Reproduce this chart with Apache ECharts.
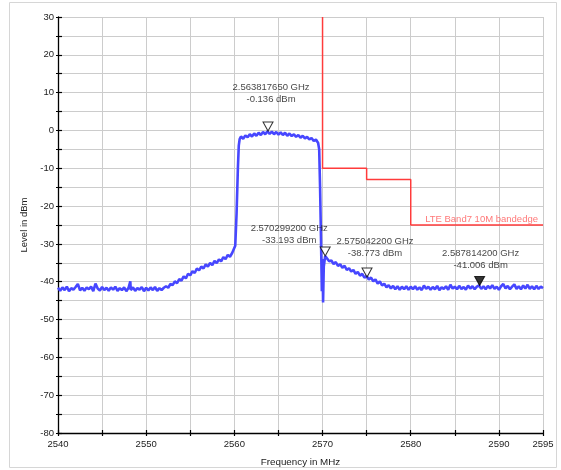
<!DOCTYPE html>
<html>
<head>
<meta charset="utf-8">
<script src="https://cdn.jsdelivr.net/npm/echarts@6/dist/echarts.min.js"></script>
<style>html,body{margin:0;padding:0;background:#fff;}#c{width:561px;height:470px;}</style>
</head>
<body>
<div id="c"></div>
<script>
// Spectrum trace [frequency MHz, level dBm]
const trace = [
[2540,-41.6],[2540.25,-42.4],[2540.5,-41.5],[2540.75,-42.2],[2541,-41.3],[2541.25,-42.5],[2541.5,-41.7],[2541.75,-42.1],
[2542,-41.4],[2542.25,-40.6],[2542.5,-42.3],[2542.75,-41.6],[2543,-42.4],[2543.25,-41.5],[2543.5,-42.0],[2543.75,-41.3],
[2544,-42.5],[2544.25,-40.5],[2544.5,-41.8],[2544.75,-42.3],[2545,-41.4],[2545.25,-42.2],[2545.5,-41.6],[2545.75,-42.4],
[2546,-41.5],[2546.25,-42.1],[2546.5,-41.3],[2546.75,-42.4],[2547,-41.7],[2547.25,-42.2],[2547.5,-41.5],[2547.75,-42.5],
[2548,-41.6],[2548.2,-39.9],[2548.25,-42.2],[2548.5,-41.5],[2548.75,-42.4],[2549,-41.7],[2549.25,-42.1],[2549.5,-41.4],
[2549.75,-42.5],[2550,-41.6],[2550.25,-42.3],[2550.5,-41.5],[2550.75,-42.2],[2551,-41.4],[2551.25,-42.4],[2551.5,-41.7],
[2551.75,-42.2],[2552,-41.6],
[2552.25,-41.2],[2552.5,-41.6],[2552.75,-40.6],[2553,-40.9],[2553.25,-39.9],[2553.5,-40.4],[2553.75,-39.3],[2554,-39.7],
[2554.25,-38.6],[2554.5,-39.1],[2554.75,-37.9],[2555,-38.3],[2555.25,-37.2],[2555.5,-37.7],[2555.75,-36.5],[2556,-37.0],
[2556.25,-36.0],[2556.5,-36.5],[2556.75,-35.4],[2557,-36.0],[2557.25,-35.0],[2557.5,-35.6],[2557.75,-34.5],[2558,-35.1],
[2558.25,-34.1],[2558.5,-34.6],[2558.75,-33.5],[2559,-34.0],[2559.25,-32.9],[2559.5,-33.4],[2559.75,-32.4],[2559.95,-32.8],
[2560.1,-30.5],[2560.25,-22],[2560.4,-10],[2560.5,-4],[2560.6,-2.3],
[2560.75,-1.6],[2561,-2.2],[2561.25,-1.3],[2561.5,-1.8],[2561.75,-1.0],[2562,-1.6],[2562.25,-0.8],[2562.5,-1.4],
[2562.75,-0.6],[2563,-1.2],[2563.25,-0.4],[2563.5,-1.0],[2563.75,-0.2],[2564,-0.9],[2564.25,-0.3],[2564.5,-1.0],
[2564.75,-0.4],[2565,-1.1],[2565.25,-0.5],[2565.5,-1.2],[2565.75,-0.6],[2566,-1.4],[2566.25,-0.8],[2566.5,-1.5],
[2566.75,-1.0],[2567,-1.7],[2567.25,-1.2],[2567.5,-1.9],[2567.75,-1.4],[2568,-2.1],[2568.25,-1.7],[2568.5,-2.4],
[2568.75,-2.0],[2569,-2.8],[2569.25,-2.4],[2569.5,-3.3],
[2569.62,-5],[2569.72,-15],[2569.82,-28],[2569.92,-42.5],[2570.0,-34],[2570.06,-45.5],[2570.14,-36],[2570.3,-33.2],
[2570.5,-33.5],[2570.75,-34.6],[2571,-34.4],[2571.25,-35.3],[2571.5,-34.8],[2571.75,-35.8],[2572,-35.4],[2572.25,-36.3],
[2572.5,-35.8],[2572.75,-36.9],[2573,-36.4],[2573.25,-37.3],[2573.5,-36.9],[2573.75,-37.9],[2574,-37.4],[2574.25,-38.4],
[2574.5,-37.9],[2574.75,-38.9],[2575,-38.5],[2575.25,-39.4],[2575.5,-38.9],[2575.75,-39.9],[2576,-39.4],[2576.25,-40.5],
[2576.5,-39.9],[2576.75,-41.0],[2577,-40.5],[2577.25,-41.5],[2577.5,-40.9],[2577.75,-41.8],[2578,-41.1],[2578.25,-42.0],
[2578.5,-41.2],[2578.75,-42.1],[2579,-41.3],[2579.25,-42.0],[2579.5,-41.2],[2579.75,-42.1],
[2580,-41.3],[2580.25,-42.0],[2580.5,-41.2],[2580.75,-42.1],[2581,-41.5],[2581.25,-42.2],[2581.5,-41.0],[2581.75,-41.9],
[2582,-41.3],[2582.25,-42.1],[2582.5,-41.4],[2582.75,-42.0],[2583,-41.1],[2583.25,-42.2],[2583.5,-41.5],[2583.75,-41.9],
[2584,-41.2],[2584.25,-42.1],[2584.5,-40.8],[2584.75,-41.8],[2585,-41.3],[2585.25,-42.0],[2585.5,-41.1],[2585.75,-41.9],
[2586,-41.4],[2586.25,-42.1],[2586.5,-41.0],[2586.75,-41.8],[2587,-41.2],[2587.25,-42.0],[2587.5,-41.3],[2587.75,-41.0],
[2588,-41.9],[2588.25,-41.2],[2588.5,-42.0],[2588.75,-41.1],[2589,-41.8],[2589.25,-40.9],[2589.5,-41.9],[2589.75,-41.3],
[2590,-42.1],[2590.25,-41.2],[2590.5,-40.6],[2590.75,-41.8],[2591,-41.1],[2591.25,-42.0],[2591.5,-41.3],[2591.75,-40.7],
[2592,-41.9],[2592.25,-41.2],[2592.5,-42.0],[2592.75,-41.0],[2593,-41.8],[2593.25,-40.8],[2593.5,-41.9],[2593.75,-41.2],
[2594,-42.0],[2594.25,-41.1],[2594.5,-41.9],[2594.75,-41.3],[2595,-41.7]
];

// Limit line (LTE Band7 10M bandedge)
const limitFreq  = [2570, 2570, 2575, 2575, 2580, 2580, 2595];
const limitLevel = [30, -10, -10, -13, -13, -25, -25];
const limitName = 'LTE Band7 10M bandedge';

// Markers
const markerHz    = [2563817650, 2570299200, 2575042200, 2587814200];
const markerLevel = [-0.136, -33.193, -38.773, -41.006];
const markerActive = [false, false, false, true];

// Axis ticks
const xMin = 2540, xMax = 2595, xStep = 5;
const yMin = -80, yMax = 30, yStep = 5;
const xAxisName = 'Frequency in MHz';
const yAxisName = 'Level in dBm';

// label placement (style, not data)
const markerLabelOffset = [[3,-26],[-36,-10],[8,-18],[1,-14]];

const FONT = 'Liberation Sans, Arial, Helvetica, sans-serif';
const FS = 9.5;

const chart = echarts.init(document.getElementById('c'), null, {renderer:'canvas'});

const markerPts = markerHz.map((hz,i)=>({
  value:[hz/1e6, markerLevel[i]],
  itemStyle: markerActive[i] ? {color:'#000', borderColor:'#000'} : {color:'#fff', borderColor:'#000'}
}));
const markerLabelPts = markerHz.map((hz,i)=>({
  value:[hz/1e6, markerLevel[i]],
  label:{offset: markerLabelOffset[i]},
  name:(hz/1e9).toFixed(9)+' GHz\n'+markerLevel[i].toFixed(3)+' dBm'
}));

const option = {
  animation:false,
  backgroundColor:'#fff',
  graphic:[{type:'rect', shape:{x:9.5,y:2.5,width:547,height:465}, style:{fill:'none', stroke:'#d6d6d6', lineWidth:1}, z:-1}],
  grid:{left:58, right:18, top:17, bottom:37, containLabel:false, outerBoundsMode:'none'},
  xAxis:[{
    type:'value', min:xMin, max:xMax, interval:xStep,
    name:xAxisName, nameLocation:'middle', nameGap:24,
    nameTextStyle:{fontFamily:FONT, fontSize:FS+0.3, color:'#222'},
    axisLine:{show:true, onZero:false, lineStyle:{color:'#000', width:1.3}},
    axisTick:{show:true, length:3, lineStyle:{color:'#000', width:1.2}},
    axisLabel:{fontFamily:FONT, fontSize:FS, color:'#222', margin:6,
      formatter:v=> (v%10===0 || v===xMax) ? String(v) : ''},
    splitLine:{show:true, lineStyle:{color:'#cccccc', width:1}}
  },{
    type:'value', min:xMin, max:xMax, interval:xStep, position:'bottom',
    axisLine:{show:false, onZero:false}, axisLabel:{show:false}, splitLine:{show:false},
    axisTick:{show:true, inside:true, length:3, lineStyle:{color:'#000', width:1.2}}
  }],
  yAxis:[{
    type:'value', min:yMin, max:yMax, interval:yStep,
    name:yAxisName, nameLocation:'middle', nameGap:23, nameRotate:90,
    nameTextStyle:{fontFamily:FONT, fontSize:FS, color:'#222'},
    axisLine:{show:true, onZero:false, lineStyle:{color:'#000', width:1.3}},
    axisTick:{show:true, length:2, lineStyle:{color:'#000', width:1.2}},
    axisLabel:{fontFamily:FONT, fontSize:FS, color:'#222', margin:4,
      formatter:v=> (v%10===0) ? String(v) : ''},
    splitLine:{show:true, lineStyle:{color:'#cccccc', width:1}}
  },{
    type:'value', min:yMin, max:yMax, interval:yStep, position:'left',
    axisLine:{show:false, onZero:false}, axisLabel:{show:false}, splitLine:{show:false},
    axisTick:{show:true, inside:true, length:4, lineStyle:{color:'#000', width:1.2}}
  }],
  series:[
    {
      name:'Trace', type:'line', data:trace, showSymbol:false, symbol:'none',
      lineStyle:{color:'#4747ff', width:2.6, join:'bevel'}, z:3
    },
    {
      name:limitName, type:'line', data:limitFreq.map((f,i)=>[f,limitLevel[i]]),
      showSymbol:false, symbol:'none', lineStyle:{color:'#ff3b3b', width:1.5}, z:2
    },
    {
      name:'limitLabel', type:'scatter', data:[[limitFreq[limitFreq.length-1], limitLevel[limitLevel.length-1]]],
      symbolSize:0, silent:true,
      label:{show:true, position:'top', distance:0, align:'right', offset:[-5,-1],
        formatter:()=>limitName, fontFamily:FONT, fontSize:FS, color:'#ff5555'}
    },
    {
      name:'Markers', type:'scatter', data:markerPts, symbol:'triangle', symbolSize:[10,9],
      symbolRotate:180, symbolOffset:[0,'-50%'], z:5,
      itemStyle:{borderWidth:1}
    },
    {
      name:'MarkerLabels', type:'scatter', data:markerLabelPts, symbolSize:0, silent:true, z:6,
      label:{show:true, position:'top', distance:0, formatter:p=>p.name,
        fontFamily:FONT, fontSize:FS, color:'#111', lineHeight:12, align:'center'}
    }
  ]
};
chart.setOption(option);
</script>
</body>
</html>
